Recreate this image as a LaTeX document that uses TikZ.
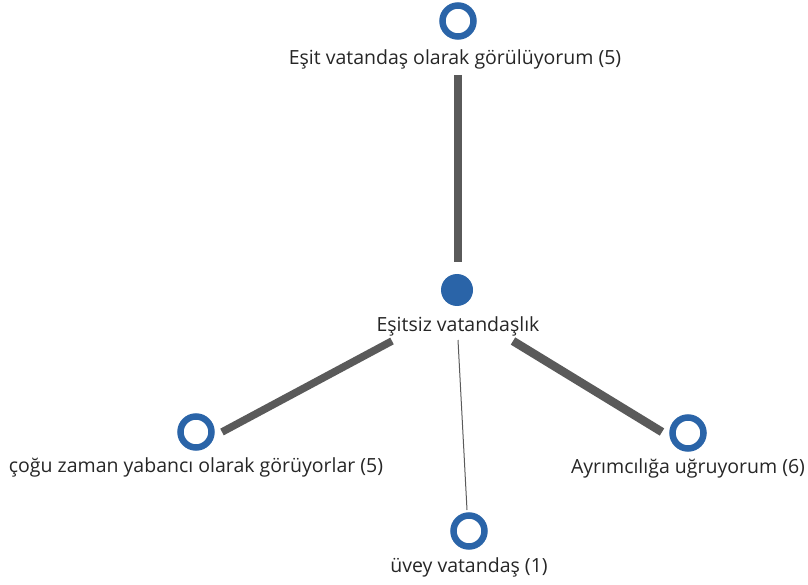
\documentclass[tikz,border=0pt]{standalone}
\usepackage{fontspec}
\setmainfont{Open Sans}
\definecolor{nodeblue}{HTML}{2A64A8}
\definecolor{edgegray}{HTML}{5A5A5A}
\begin{document}
\begin{tikzpicture}[x=1pt,y=-1pt,
  ring/.style={circle,draw=nodeblue,line width=6.5pt,fill=white,minimum size=31pt,inner sep=0pt},
  hub/.style={circle,fill=nodeblue,minimum size=32pt,inner sep=0pt},
  lbl/.style={font=\fontsize{19.5}{23}\selectfont,text=black!85,inner sep=0pt},
  heavy/.style={draw=edgegray,line width=7.5pt},
  heavier/.style={draw=edgegray,line width=8.5pt},
  light/.style={draw=edgegray,line width=1pt}]
\useasboundingbox (0,0) rectangle (808,585);
% nodes
\node[hub]  (hub)   at (457,290) {};
\node[ring] (top)   at (458,21)  {};
\node[ring] (left)  at (196,432) {};
\node[ring] (right) at (688,433) {};
\node[ring] (down)  at (469,531) {};
% labels
\node[lbl] (hubL)   at (458,326) {Eşitsiz vatandaşlık};
\node[lbl] (topL)   at (455,59)  {Eşit vatandaş olarak görülüyorum (5)};
\node[lbl] (leftL)  at (196,467) {çoğu zaman yabancı olarak görüyorlar (5)};
\node[lbl] (rightL) at (688,468) {Ayrımcılığa uğruyorum (6)};
\node[lbl] (downL)  at (469,567) {üvey vatandaş (1)};
% edge end points
\coordinate (eT1) at (458,75);  \coordinate (eT2) at (458,262);
\coordinate (eL1) at (392,341); \coordinate (eL2) at (222,432);
\coordinate (eR1) at (513,341); \coordinate (eR2) at (662,432);
\coordinate (eD1) at (458,340); \coordinate (eD2) at (467,510);
% connectors
\draw[heavy] (eT1) -- (eT2);
\draw[heavy] (eL1) -- (eL2);
\draw[heavier] (eR1) -- (eR2);
\draw[light] (eD1) -- (eD2);
\end{tikzpicture}
\end{document}
